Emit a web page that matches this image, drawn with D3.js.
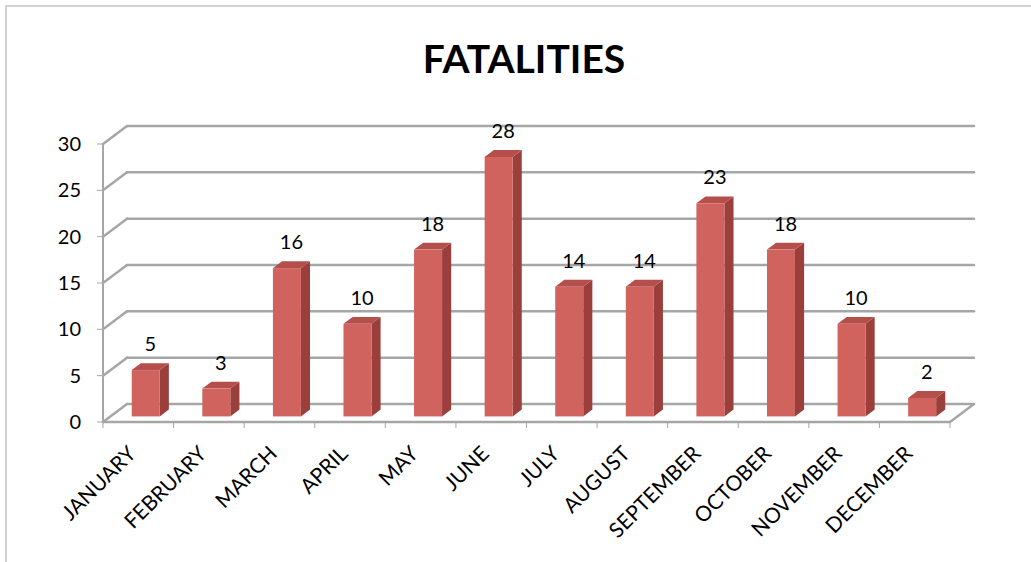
<!DOCTYPE html>
<html>
<head>
<meta charset="utf-8">
<script src="https://cdn.jsdelivr.net/npm/d3@7"></script>
<style>
  body { margin: 0; background: #fff; }
  text { font-family: Lato, "Open Sans", sans-serif; }
</style>
</head>
<body>
<svg width="1031" height="562"></svg>
<script>
const months = ['JANUARY', 'FEBRUARY', 'MARCH', 'APRIL', 'MAY', 'JUNE', 'JULY',
    'AUGUST', 'SEPTEMBER', 'OCTOBER', 'NOVEMBER', 'DECEMBER'];
const fatalities = [5, 3, 16, 10, 18, 28, 14, 14, 23, 18, 10, 2];
const yTicks = [0, 5, 10, 15, 20, 25, 30];
const chartTitle = 'FATALITIES';

const svg = d3.select('svg');
const depth = { dx: 24, dy: -18 }; // offset from front plane to back wall

const x = d3.scaleBand().domain(months).range([103, 950]);
const y = d3.scaleLinear().domain([0, 30]).range([422, 144]);

// move a point back into the chart by fraction t of the depth
function back(px, py, t) {
    return [px + depth.dx * t, py + depth.dy * t];
}

// outer border
svg.append('path')
    .attr('d', 'M6,562 L6,6 L1031,6')
    .attr('fill', 'none')
    .attr('stroke', '#c4c4c4')
    .attr('stroke-width', 1.5);

// title
svg.append('text')
    .attr('x', 524)
    .attr('y', 73)
    .attr('text-anchor', 'middle')
    .attr('font-size', '39px')
    .attr('font-weight', 'bold')
    .attr('fill', '#000')
    .text(chartTitle);

const grid = svg.append('g')
    .attr('fill', 'none')
    .attr('stroke', '#a6a6a6')
    .attr('stroke-width', 2.5)
    .attr('stroke-linecap', 'round');

// back wall and side wall gridlines
yTicks.forEach(v => {
    const [bx, by] = back(103, y(v), 1);
    grid.append('line')
        .attr('x1', 103).attr('y1', y(v))
        .attr('x2', bx).attr('y2', by);
    grid.append('line')
        .attr('x1', bx).attr('y1', by)
        .attr('x2', 950 + depth.dx).attr('y2', by);
});

// floor front edge and right edge
grid.append('line')
    .attr('x1', 103).attr('y1', y(0))
    .attr('x2', 950).attr('y2', y(0));
grid.append('line')
    .attr('x1', 950).attr('y1', y(0))
    .attr('x2', 950 + depth.dx).attr('y2', y(0) + depth.dy);

// vertical axis line
svg.append('line')
    .attr('x1', 103).attr('y1', y(0))
    .attr('x2', 103).attr('y2', y(30))
    .attr('stroke', '#a6a6a6')
    .attr('stroke-width', 2);

// tick marks
const ticks = svg.append('g').attr('stroke', '#a6a6a6').attr('stroke-width', 1);
yTicks.forEach(v => {
    ticks.append('line')
        .attr('x1', 97).attr('y1', y(v))
        .attr('x2', 103).attr('y2', y(v));
});
months.concat(['end']).forEach((m, i) => {
    const tx = 103 + i * x.step();
    ticks.append('line')
        .attr('x1', tx).attr('y1', y(0))
        .attr('x2', tx).attr('y2', y(0) + 6);
});

// y tick labels
svg.append('g').selectAll('text')
    .data(yTicks)
    .join('text')
    .attr('x', 81)
    .attr('y', d => y(d) + 7)
    .attr('text-anchor', 'end')
    .attr('font-size', '20px')
    .attr('fill', '#000')
    .text(d => d);

// bars
const barW = 28;
const tFront = 0.31;
const tBack = 0.69;
const bars = svg.append('g');

months.forEach((m, i) => {
    const v = fatalities[i];
    const cx = x(m) + x.bandwidth() / 2;
    const [fx, fy0] = back(cx - barW / 2, y(0), tFront);
    const fy1 = fy0 - (y(0) - y(v));
    const ox = depth.dx * (tBack - tFront);
    const oy = depth.dy * (tBack - tFront);
    const g = bars.append('g');

    // side face
    g.append('path')
        .attr('d', `M${fx + barW},${fy0} L${fx + barW + ox},${fy0 + oy} L${fx + barW + ox},${fy1 + oy} L${fx + barW},${fy1} Z`)
        .attr('fill', '#9b3f3c');
    // top face
    g.append('path')
        .attr('d', `M${fx},${fy1} L${fx + ox},${fy1 + oy} L${fx + barW + ox},${fy1 + oy} L${fx + barW},${fy1} Z`)
        .attr('fill', '#b44f4b');
    // front face
    g.append('rect')
        .attr('x', fx)
        .attr('y', fy1)
        .attr('width', barW)
        .attr('height', fy0 - fy1)
        .attr('fill', '#d1635f');

    // value label
    g.append('text')
        .attr('x', fx + barW / 2 + ox / 2)
        .attr('y', fy1 + oy - 12)
        .attr('text-anchor', 'middle')
        .attr('font-size', '20px')
        .attr('fill', '#000')
        .text(v);
});

// category labels, rotated
svg.append('g').selectAll('text')
    .data(months)
    .join('text')
    .attr('transform', d => `translate(${x(d) + x.bandwidth() / 2 - 1},${455}) rotate(-45)`)
    .attr('text-anchor', 'end')
    .attr('font-size', '21px')
    .attr('fill', '#000')
    .text(d => d);
</script>
</body>
</html>
